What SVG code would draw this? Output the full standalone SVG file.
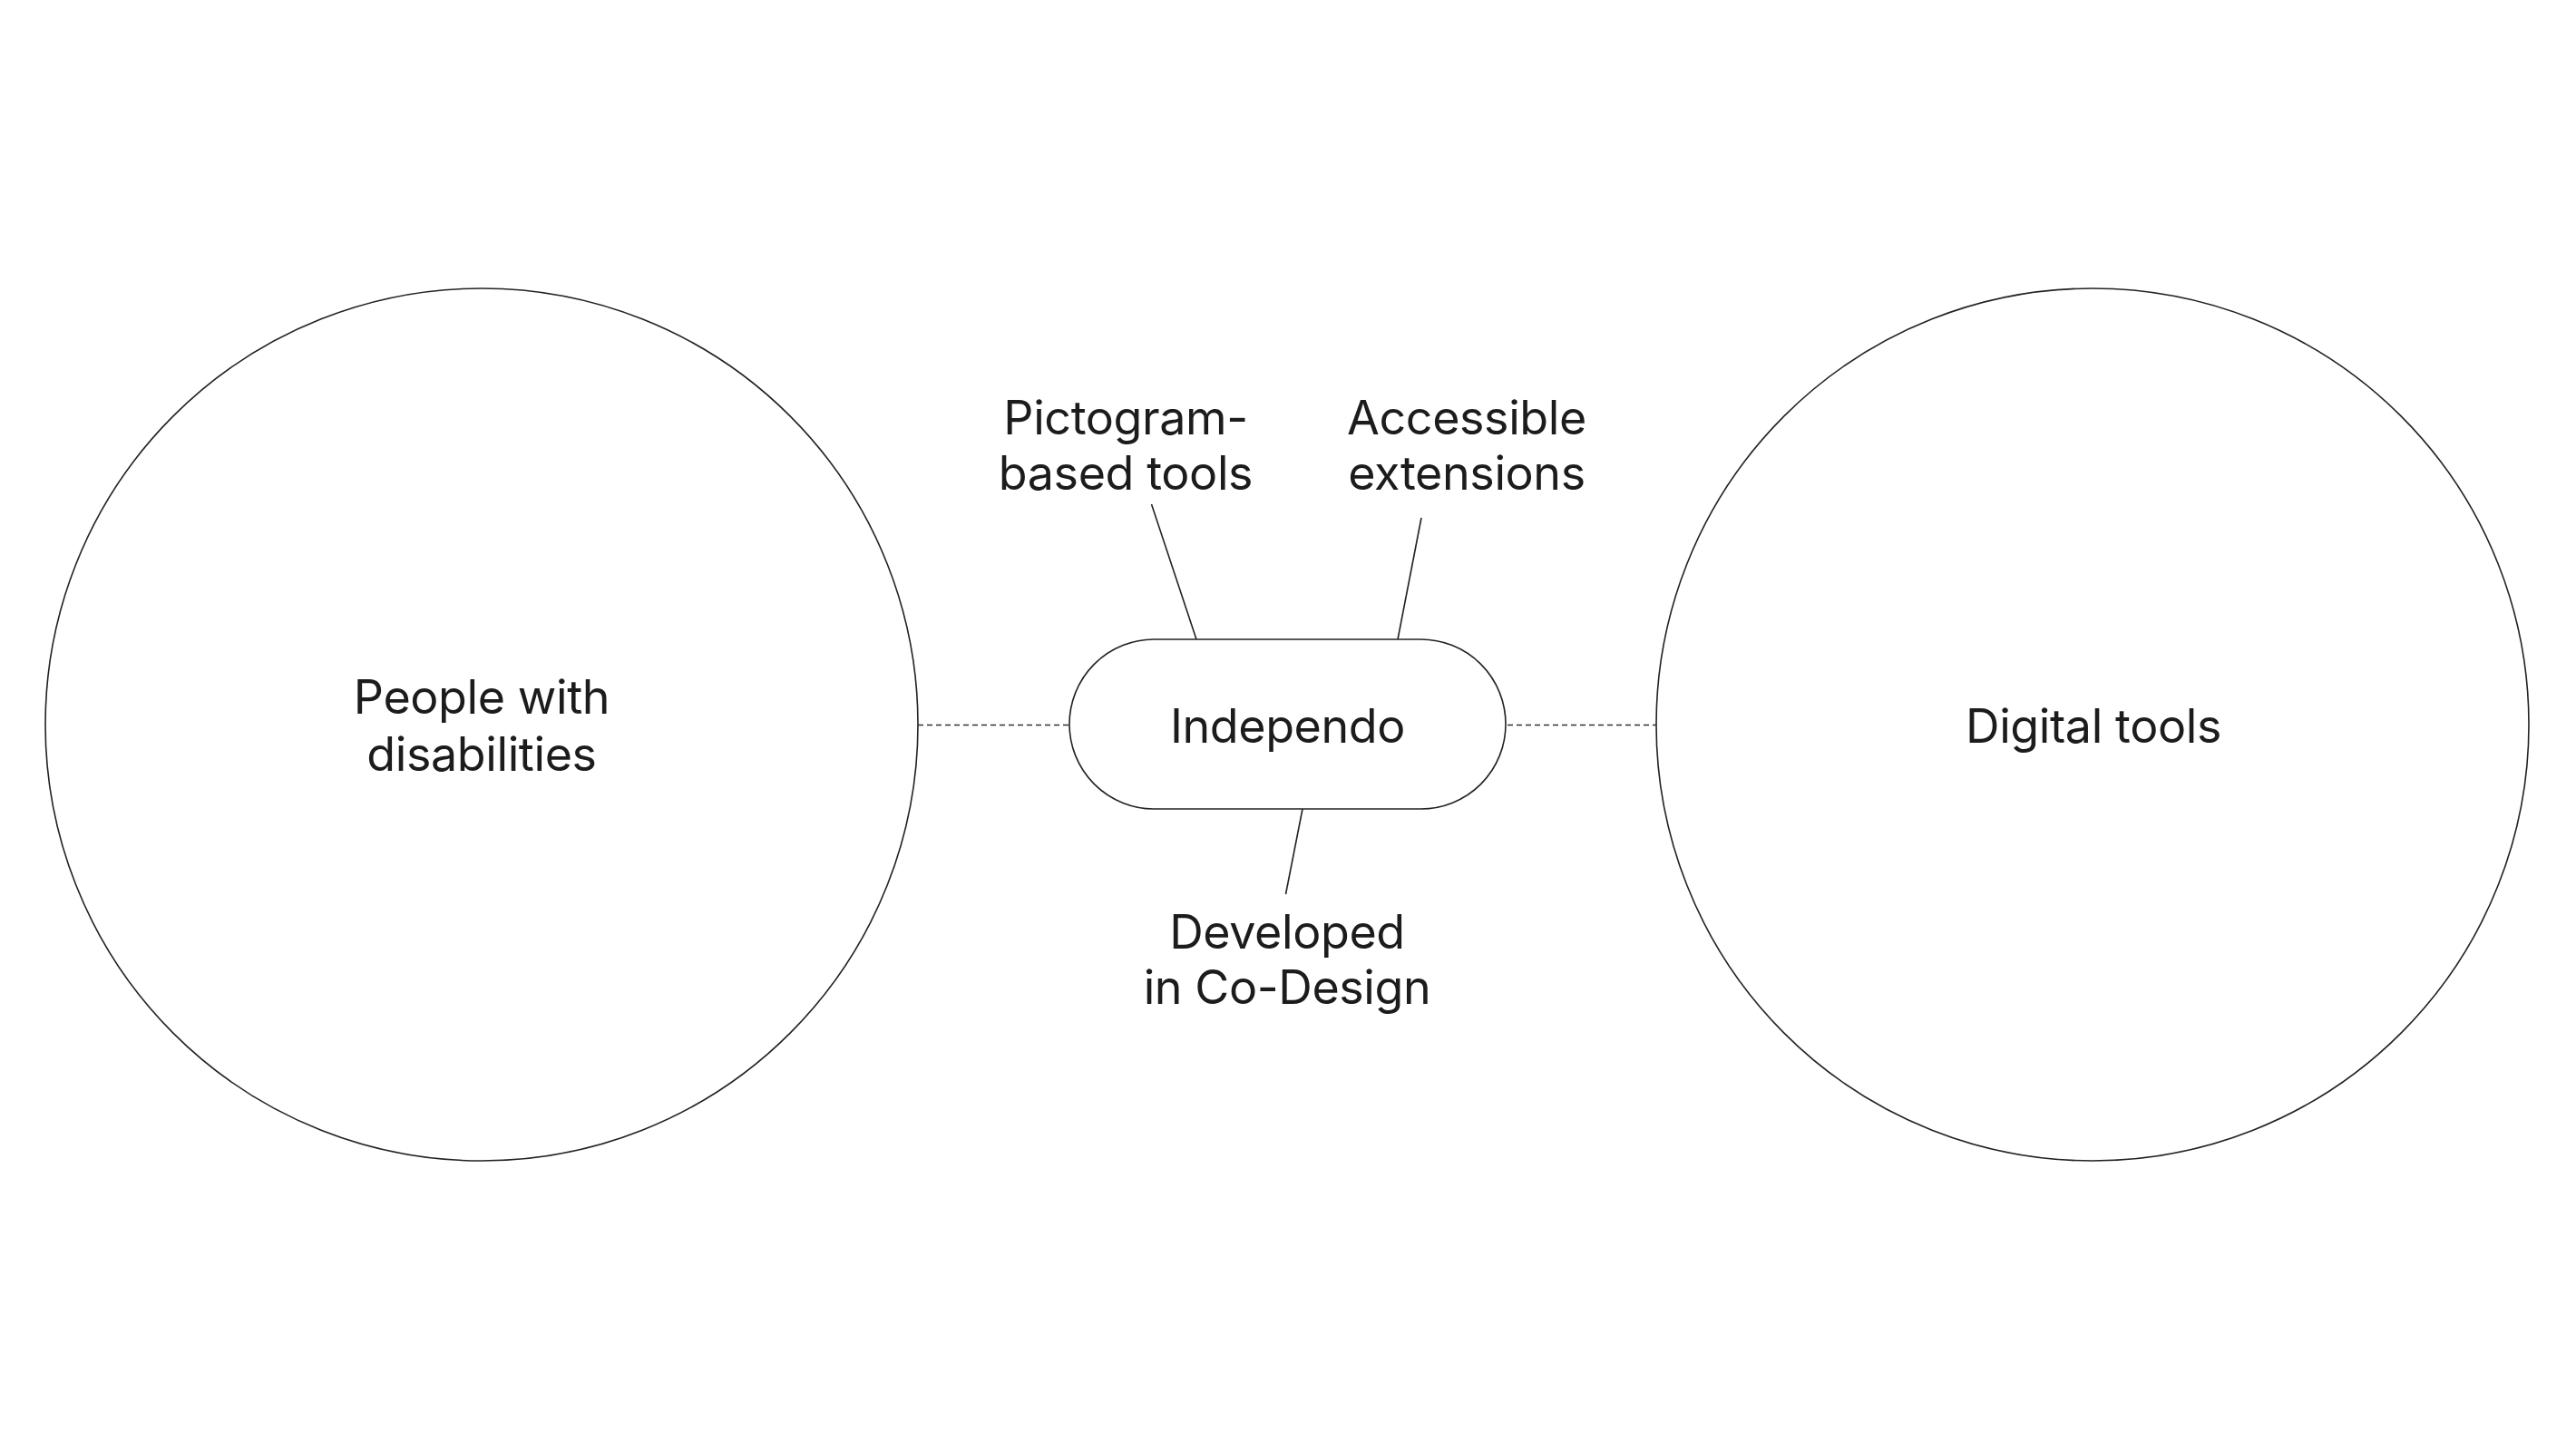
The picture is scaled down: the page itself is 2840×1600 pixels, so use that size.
<svg xmlns="http://www.w3.org/2000/svg" width="2840" height="1600" viewBox="0 0 2840 1600">
<style>
.shape{fill:#fff;stroke:#222;stroke-width:1.6}
.lbl{font-family:Inter,"Liberation Sans",sans-serif;font-size:52px;fill:#1c1c1c;text-anchor:middle;letter-spacing:-0.4px}
.conn{stroke:#222;stroke-width:1.6;fill:none}
.dash{stroke:#333;stroke-width:1.6;stroke-dasharray:6 4;fill:none}
</style>
<rect width="2840" height="1600" fill="#fff"/>
<g id="connectors">
<line class="dash" x1="1012" y1="799.5" x2="1178" y2="799.5"/>
<line class="dash" x1="1662" y1="799.5" x2="1826" y2="799.5"/>
<line class="conn" x1="1269.5" y1="556" x2="1319" y2="705"/>
<line class="conn" x1="1567" y1="571" x2="1541" y2="705"/>
<line class="conn" x1="1436" y1="892" x2="1417.5" y2="986"/>
</g>
<g id="people">
<circle class="shape" cx="531" cy="799" r="481"/>
<text class="lbl" x="531" y="787">People with</text>
<text class="lbl" x="531" y="850">disabilities</text>
</g>
<g id="digital">
<circle class="shape" cx="2307" cy="799" r="481"/>
<text class="lbl" x="2308" y="819">Digital tools</text>
</g>
<g id="independo">
<rect class="shape" x="1179" y="705" width="481" height="187" rx="93.5" ry="93.5"/>
<text class="lbl" x="1419.5" y="819">Independo</text>
</g>
<g id="pictogram">
<text class="lbl" x="1241" y="479">Pictogram-</text>
<text class="lbl" x="1241" y="540">based tools</text>
</g>
<g id="accessible">
<text class="lbl" x="1617" y="479">Accessible</text>
<text class="lbl" x="1617" y="540">extensions</text>
</g>
<g id="codesign">
<text class="lbl" x="1419" y="1046">Developed</text>
<text class="lbl" x="1419" y="1107">in Co-Design</text>
</g>
</svg>
